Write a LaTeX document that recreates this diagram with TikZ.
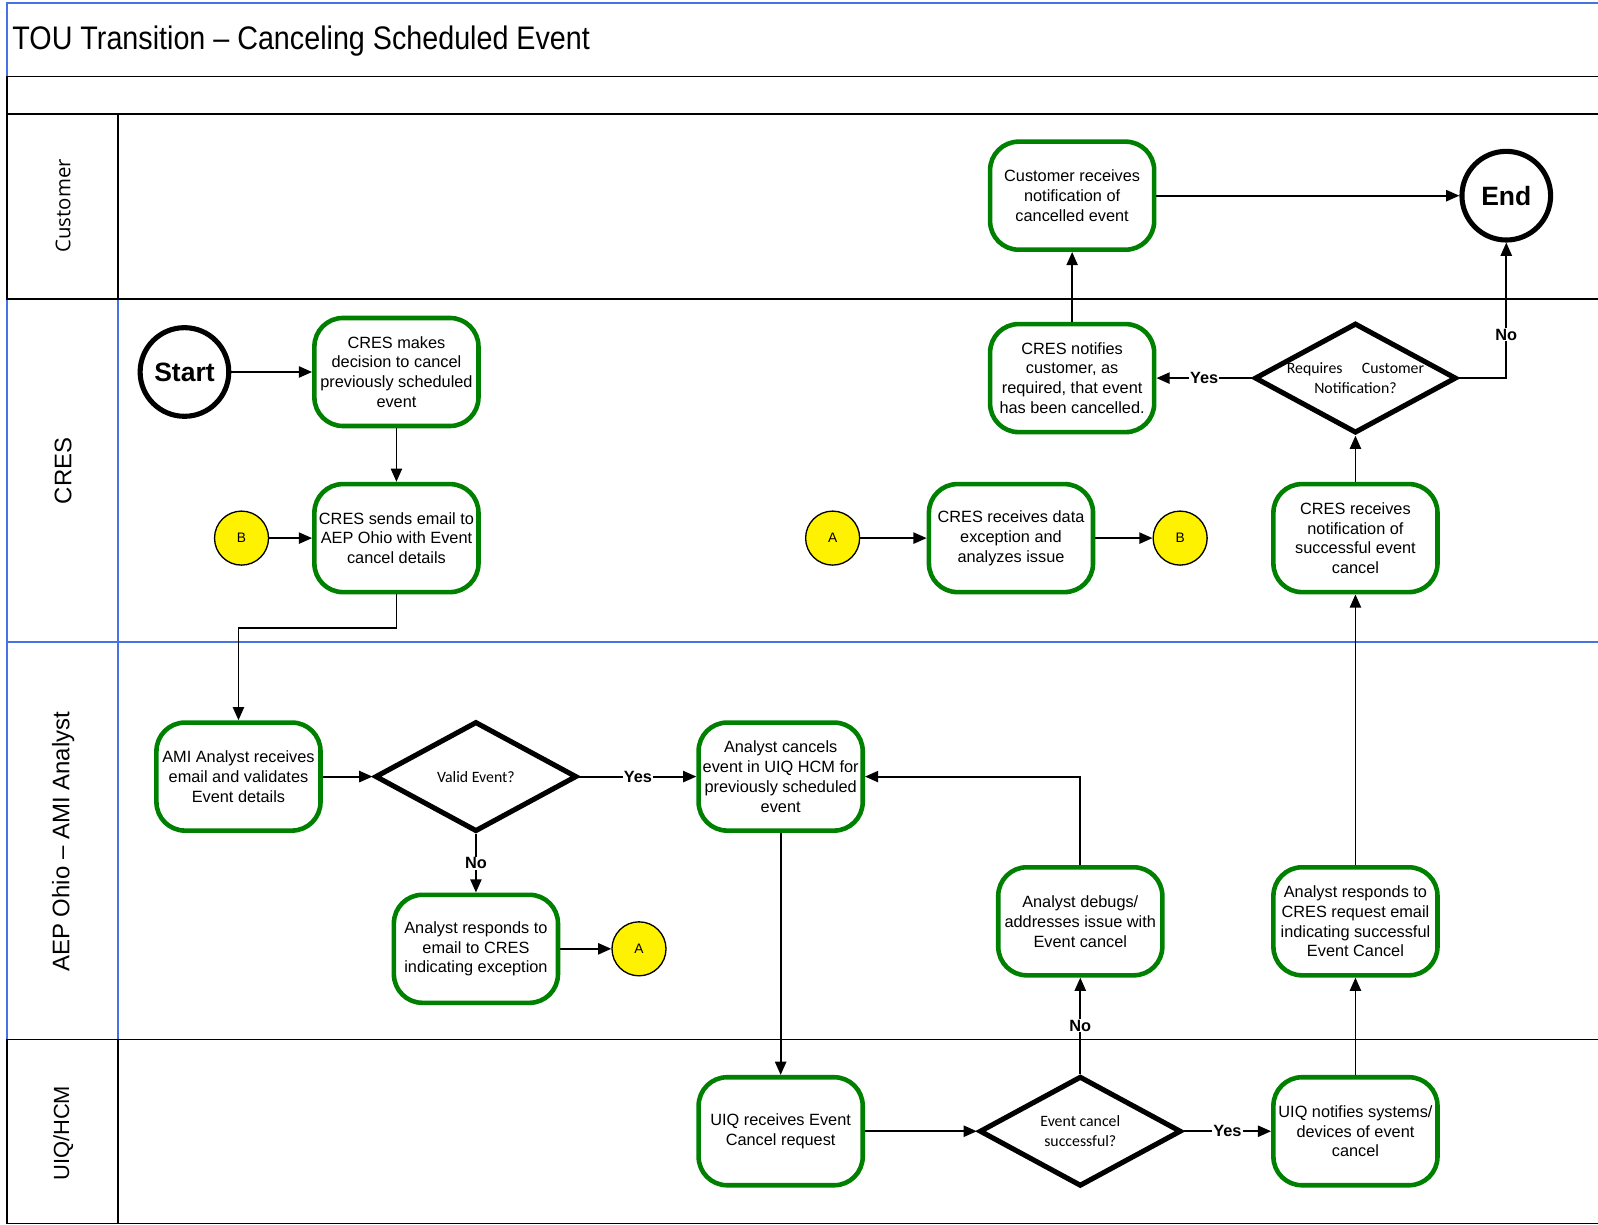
\documentclass[tikz,border=0pt]{standalone}
\usepackage{fontspec}
\setmainfont{Liberation Sans}
\newfontfamily\calfont{Carlito}
\newfontfamily\opensans{Open Sans}
\newfontfamily\narrowfont[FakeStretch=0.88]{Liberation Sans}
\usetikzlibrary{shapes.geometric,arrows.meta}
\definecolor{procgreen}{RGB}{0,128,0}
\definecolor{laneblue}{RGB}{70,114,230}

\begin{document}
\begin{tikzpicture}[x=1pt, y=-1pt, >={Triangle[length=13pt,width=11pt]}, line width=1.8pt,
    proc/.style={draw=procgreen, line width=4.5pt, rounded corners=28pt, fill=white,
      minimum width=161pt, minimum height=106pt, align=center, inner sep=1pt,
      font=\fontsize{16}{19.5}\selectfont},
    decision/.style={draw, line width=5pt, diamond, minimum width=198pt,
      minimum height=108pt, inner sep=0pt, fill=white},
    dtext/.style={align=center, font=\calfont\fontsize{15.5}{19}\selectfont},
    terminal/.style={draw, circle, line width=5pt, minimum size=87pt,
      font=\fontsize{26}{30}\selectfont\bfseries},
    offpage/.style={draw, circle, fill=yellow, line width=1.3pt, minimum size=53pt,
      font=\fontsize{13.5}{15}\selectfont},
    lbl/.style={fill=white, inner sep=1pt, font=\fontsize{16}{18}\selectfont\bfseries},
    lanetitle/.style={rotate=90, font=\fontsize{23.5}{28}\selectfont}]
  \useasboundingbox (0,0) rectangle (1568,1202);
  \clip (0,0) rectangle (1568,1202);
  % pool and lanes
  \draw[laneblue] (7,293) rectangle (1575,1020);
  \draw[laneblue] (116,293) -- (116,1020);
  \draw[laneblue] (7,630) -- (1575,630);
  \draw (7,112) rectangle (1575,293);
  \draw (116,112) -- (116,293);
  \draw (7,1020) rectangle (1575,1200.5);
  \draw (116,1020) -- (116,1200.5);
  \draw[laneblue] (7,75) -- (7,3) -- (1575,3);
  \draw (7,75) rectangle (1575,112);
  \node[anchor=west, font=\narrowfont\fontsize{32}{36}\selectfont] (title) at (8,40)
    {TOU Transition – Canceling Scheduled Event};
  \node[lanetitle, font=\opensans\fontsize{20}{24}\selectfont] (lCust) at (62,202) {Customer};
  \node[lanetitle] (lCres) at (62,462) {CRES};
  \node[lanetitle] (lAmi) at (62,826) {AEP Ohio – AMI Analyst};
  \node[lanetitle, font=\fontsize{21.5}{26}\selectfont] (lUiq) at (62,1112) {UIQ/HCM};

  % Customer
  \node[proc] (custRecv) at (1052,192) {Customer receives\\notification of\\cancelled event};
  \node[terminal] (endN) at (1478,192) {End};

  % CRES
  \node[terminal] (startN) at (181,365) {Start};
  \node[proc] (cresDecide) at (389,365) {CRES makes\\decision to cancel\\previously scheduled\\event};
  \node[proc] (cresEmail) at (389,528) {CRES sends email to\\AEP Ohio with Event\\cancel details};
  \node[offpage] (b1) at (237,528) {B};
  \node[proc] (cresNotify) at (1052,371) {CRES notifies\\customer, as\\required, that event\\has been cancelled.};
  \node[decision, label={[dtext]center:Requires\quad\ Customer\\Notification?}] (reqNotif) at (1330,371) {};
  \node[offpage] (a1) at (817,528) {A};
  \node[proc] (cresData) at (992,528) {CRES receives data\\exception and\\analyzes issue};
  \node[offpage] (b2) at (1158,528) {B};
  \node[proc] (cresSuccess) at (1330,528) {CRES receives\\notification of\\successful event\\cancel};

  % AEP Ohio - AMI Analyst
  \node[proc] (amiRecv) at (234,762) {AMI Analyst receives\\email and validates\\Event details};
  \node[decision, label={[dtext]center:Valid Event?}] (valid) at (467,762) {};
  \node[proc] (anaCancel) at (766,762) {Analyst cancels\\event in UIQ HCM for\\previously scheduled\\event};
  \node[proc] (anaExc) at (467,931) {Analyst responds to\\email to CRES\\indicating exception};
  \node[offpage] (a2) at (627,931) {A};
  \node[proc] (anaDebug) at (1060,904) {Analyst debugs/\\addresses issue with\\Event cancel};
  \node[proc] (anaSuccess) at (1330,904) {Analyst responds to\\CRES request email\\indicating successful\\Event Cancel};

  % UIQ/HCM
  \node[proc] (uiqRecv) at (766,1110) {UIQ receives Event\\Cancel request};
  \node[decision, label={[dtext]center:Event cancel\\successful?}] (evtSucc) at (1060,1110) {};
  \node[proc] (uiqNotify) at (1330,1110) {UIQ notifies systems/\\devices of event\\cancel};

  % flow
  \draw[->] (startN) -- (cresDecide);
  \draw[->] (cresDecide) -- (cresEmail);
  \draw[->] (b1) -- (cresEmail);
  \draw[->] (cresEmail.south) -- ++(0,33) -| (amiRecv.north);
  \draw[->] (amiRecv) -- (valid);
  \draw[->] (valid) -- node[lbl]{Yes} (anaCancel);
  \draw[->] (valid) -- node[lbl]{No} (anaExc);
  \draw[->] (anaExc) -- (a2);
  \draw[->] (anaCancel) -- (uiqRecv);
  \draw[->] (uiqRecv) -- (evtSucc);
  \draw[->] (evtSucc) -- node[lbl]{Yes} (uiqNotify);
  \draw[->] (evtSucc) -- node[lbl]{No} (anaDebug);
  \draw[->] (anaDebug.north) |- (anaCancel.east);
  \draw[->] (uiqNotify) -- (anaSuccess);
  \draw[->] (anaSuccess) -- (cresSuccess);
  \draw[->] (cresSuccess) -- (reqNotif);
  \draw[->] (reqNotif) -- node[lbl]{Yes} (cresNotify);
  \draw[->] (reqNotif.east) -| node[lbl, pos=0.66]{No} (endN.south);
  \draw[->] (cresNotify) -- (custRecv);
  \draw[->] (custRecv) -- (endN);
  \draw[->] (a1) -- (cresData);
  \draw[->] (cresData) -- (b2);
\end{tikzpicture}
\end{document}
